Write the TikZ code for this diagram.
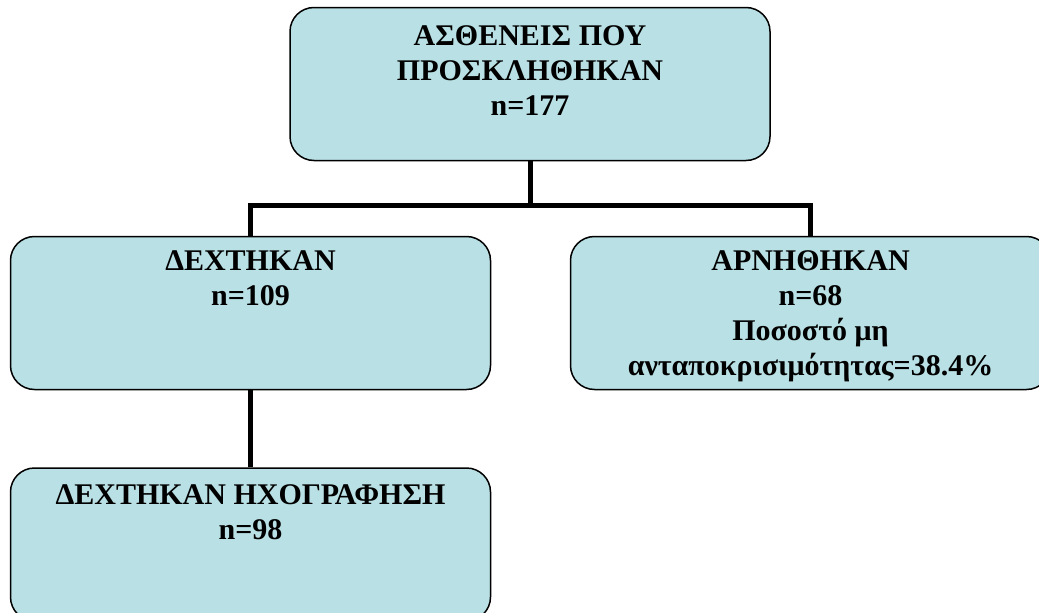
\documentclass[tikz,border=0pt]{standalone}
\usepackage{fontspec}
\setmainfont{Liberation Serif}
\usepackage{xcolor}
\usetikzlibrary{positioning, backgrounds}
\definecolor{boxfill}{RGB}{185,224,228}

\begin{document}
\begin{tikzpicture}[
		x=1pt, y=-1pt,
		box/.style={rectangle, draw, line width=1.5pt, fill=boxfill, rounded corners=24pt, minimum width=480pt, minimum height=153pt, inner sep=0pt},
		txt/.style={align=center, inner sep=0pt, font=\fontsize{30}{35}\selectfont\bfseries},
		conn/.style={line width=5pt, line join=miter}
	]
	
	\useasboundingbox (0,0) rectangle (1039,613);
	\clip (0,0) rectangle (1039,613);
	
	% Boxes
	\node[box] (invited) at (530,84) {};
	\node[box] (accepted) at (250.5,313) {};
	\node[box] (refused) at (810.5,313) {};
	\node[box, below=77pt of accepted] (scanned) {};
	
	% Texts
	\node[txt, below=19pt of invited.north] (invitedtxt) {ΑΣΘΕΝΕΙΣ ΠΟΥ\\ΠΡΟΣΚΛΗΘΗΚΑΝ\\n=177};
	\node[txt, below=15pt of accepted.north] (acceptedtxt) {ΔΕΧΤΗΚΑΝ\\n=109};
	\node[txt, below=15pt of refused.north] (refusedtxt) {ΑΡΝΗΘΗΚΑΝ\\n=68\\Ποσοστό μη\\ανταποκρισιμότητας=38.4\%};
	\node[txt, below=17pt of scanned.north] (scannedtxt) {ΔΕΧΤΗΚΑΝ ΗΧΟΓΡΑΦΗΣΗ\\n=98};
	
	% Connectors
	\coordinate (branch) at (invited.south |- 0,205);
	\begin{scope}[on background layer]
		\draw[conn] (invited.south) -- (branch);
		\draw[conn] (accepted.north) |- (branch) -| (refused.north);
		\draw[conn] (accepted.south) -- (scanned.north);
	\end{scope}
	
\end{tikzpicture}
\end{document}
